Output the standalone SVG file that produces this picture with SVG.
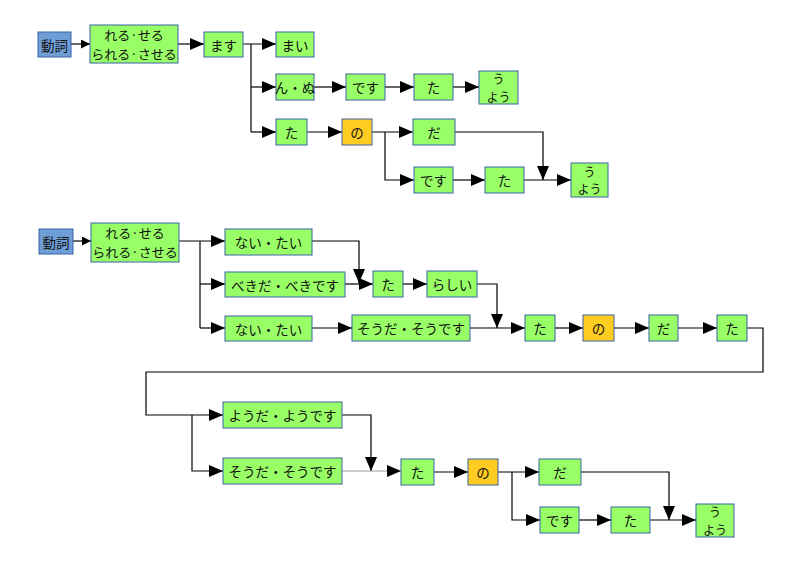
<svg xmlns="http://www.w3.org/2000/svg" width="802" height="567" viewBox="0 0 802 567">
<style>
.n rect{stroke:#3A62A8;stroke-width:1}
.g rect{fill:#99FF66}
.o rect{fill:#FFCC22}
.b rect{fill:#6F9ED6}
text{font-family:"Noto Sans CJK JP","Noto Sans CJK SC",sans-serif;font-size:13.5px;fill:#111;text-anchor:middle;dominant-baseline:central}
text.sm{font-size:12px}
text.md{font-size:13px}
.c path{fill:none;stroke:#000;stroke-width:1.2}
.c .a{marker-end:url(#ah)}
.c .s{marker-end:url(#as)}
.c .gr{stroke:#999}
</style>
<defs>
<marker id="ah" markerUnits="userSpaceOnUse" markerWidth="14" markerHeight="12" viewBox="0 0 14 12" refX="14" refY="6" orient="auto"><path d="M0,0 L14,6 L0,12 Z" fill="#000"/></marker>
<marker id="as" markerUnits="userSpaceOnUse" markerWidth="9" markerHeight="9" viewBox="0 0 9 9" refX="9" refY="4.5" orient="auto"><path d="M0,0 L9,4.5 L0,9 Z" fill="#000"/></marker>
</defs>
<rect width="802" height="567" fill="#fff"/>
<g class="c">
<path class="s" d="M71,44 H90"/>
<path class="a" d="M178,44 H204"/>
<path class="a" d="M243,44 H276"/>
<path d="M251,44 V132"/>
<path class="a" d="M251,87 H276"/>
<path class="a" d="M251,132 H276"/>
<path class="a" d="M314,87 H346"/>
<path class="a" d="M385,87 H414"/>
<path class="a" d="M453,87 H479"/>
<path class="a" d="M307,132 H342"/>
<path class="a" d="M372,132 H413"/>
<path class="a" d="M385,132 V180 H414"/>
<path class="a" d="M453,180 H485"/>
<path class="a" d="M524,180 H571"/>
<path class="a" d="M455,132 H543 V180"/>
<path class="s" d="M73,241 H91"/>
<path class="a" d="M179,241 H225"/>
<path d="M200,241 V328"/>
<path class="a" d="M200,284 H225"/>
<path class="a" d="M200,328 H225"/>
<path class="a" d="M312,241 H359 V283"/>
<path class="a" d="M345,284 H373"/>
<path class="a" d="M403,284 H427"/>
<path class="a" d="M477,284 H497 V328"/>
<path class="a" d="M312,328 H352"/>
<path class="a" d="M470,328 H525"/>
<path class="a" d="M555,328 H583"/>
<path class="a" d="M614,328 H649"/>
<path class="a" d="M678,328 H717"/>
<path class="a" d="M747,328 H763 V372 H146 V415 H223"/>
<path class="a" d="M192,415 V471 H223"/>
<path class="a" d="M342,415 H371 V471"/>
<path class="a gr" d="M342,471 H401"/>
<path class="a" d="M434,472 H468"/>
<path class="a" d="M498,472 H539"/>
<path class="a" d="M512,472 V520 H540"/>
<path class="a" d="M579,520 H611"/>
<path class="a" d="M650,520 H696"/>
<path class="a" d="M581,472 H669 V520"/>
</g>
<g id="n1" class="n b"><rect x="38" y="32" width="33" height="25"/><text x="54.5" y="44.5">動詞</text></g>
<g id="n2" class="n g"><rect x="90" y="25" width="88" height="38"/><text class="md" x="134" y="34.5">れる·せる</text><text class="md" x="134" y="53">られる·させる</text></g>
<g id="n3" class="n g"><rect x="204" y="32" width="39" height="25"/><text x="223.5" y="44.5">ます</text></g>
<g id="n4" class="n g"><rect x="276" y="32" width="38" height="25"/><text x="295" y="44.5">まい</text></g>
<g id="n5" class="n g"><rect x="276" y="74" width="38" height="26"/><text x="295" y="87">ん・ぬ</text></g>
<g id="n6" class="n g"><rect x="346" y="74" width="39" height="26"/><text x="365.5" y="87">です</text></g>
<g id="n7" class="n g"><rect x="414" y="74" width="39" height="26"/><text x="433.5" y="87">た</text></g>
<g id="n8" class="n g"><rect x="479" y="71" width="39" height="33"/><text class="sm" x="498.5" y="78.5">う</text><text class="sm" x="498.5" y="96">よう</text></g>
<g id="n9" class="n g"><rect x="276" y="119" width="31" height="26"/><text x="291.5" y="132">た</text></g>
<g id="n10" class="n o"><rect x="342" y="119" width="30" height="26"/><text x="357" y="132">の</text></g>
<g id="n11" class="n g"><rect x="413" y="119" width="42" height="26"/><text x="434" y="132">だ</text></g>
<g id="n12" class="n g"><rect x="414" y="167" width="39" height="26"/><text x="433.5" y="180">です</text></g>
<g id="n13" class="n g"><rect x="485" y="167" width="39" height="26"/><text x="504.5" y="180">た</text></g>
<g id="n14" class="n g"><rect x="571" y="163" width="37" height="34"/><text class="sm" x="589.5" y="171">う</text><text class="sm" x="589.5" y="188.5">よう</text></g>
<g id="n15" class="n b"><rect x="39" y="229" width="34" height="25"/><text x="56" y="241.5">動詞</text></g>
<g id="n16" class="n g"><rect x="91" y="223" width="88" height="39"/><text class="md" x="135" y="232.5">れる·せる</text><text class="md" x="135" y="251">られる·させる</text></g>
<g id="n17" class="n g"><rect x="225" y="229" width="87" height="26"/><text x="268.5" y="242">ない・たい</text></g>
<g id="n18" class="n g"><rect x="225" y="272" width="120" height="25"/><text x="285" y="284.5">べきだ・べきです</text></g>
<g id="n19" class="n g"><rect x="225" y="316" width="87" height="25"/><text x="268.5" y="328.5">ない・たい</text></g>
<g id="n20" class="n g"><rect x="373" y="271" width="30" height="26"/><text x="388" y="284">た</text></g>
<g id="n21" class="n g"><rect x="427" y="271" width="50" height="26"/><text x="452" y="284">らしい</text></g>
<g id="n22" class="n g"><rect x="352" y="315" width="118" height="26"/><text x="411" y="328">そうだ・そうです</text></g>
<g id="n23" class="n g"><rect x="525" y="315" width="30" height="26"/><text x="540" y="328">た</text></g>
<g id="n24" class="n o"><rect x="583" y="315" width="31" height="26"/><text x="598.5" y="328">の</text></g>
<g id="n25" class="n g"><rect x="649" y="315" width="29" height="26"/><text x="663.5" y="328">だ</text></g>
<g id="n26" class="n g"><rect x="717" y="315" width="30" height="26"/><text x="732" y="328">た</text></g>
<g id="n27" class="n g"><rect x="223" y="402" width="119" height="26"/><text x="282.5" y="415">ようだ・ようです</text></g>
<g id="n28" class="n g"><rect x="223" y="458" width="119" height="26"/><text x="282.5" y="471">そうだ・そうです</text></g>
<g id="n29" class="n g"><rect x="401" y="459" width="33" height="26"/><text x="417.5" y="472">た</text></g>
<g id="n30" class="n o"><rect x="468" y="459" width="30" height="26"/><text x="483" y="472">の</text></g>
<g id="n31" class="n g"><rect x="539" y="459" width="42" height="26"/><text x="560" y="472">だ</text></g>
<g id="n32" class="n g"><rect x="540" y="507" width="39" height="26"/><text x="559.5" y="520">です</text></g>
<g id="n33" class="n g"><rect x="611" y="507" width="39" height="26"/><text x="630.5" y="520">た</text></g>
<g id="n34" class="n g"><rect x="696" y="504" width="38" height="33"/><text class="sm" x="715" y="511.5">う</text><text class="sm" x="715" y="529">よう</text></g>
</svg>
